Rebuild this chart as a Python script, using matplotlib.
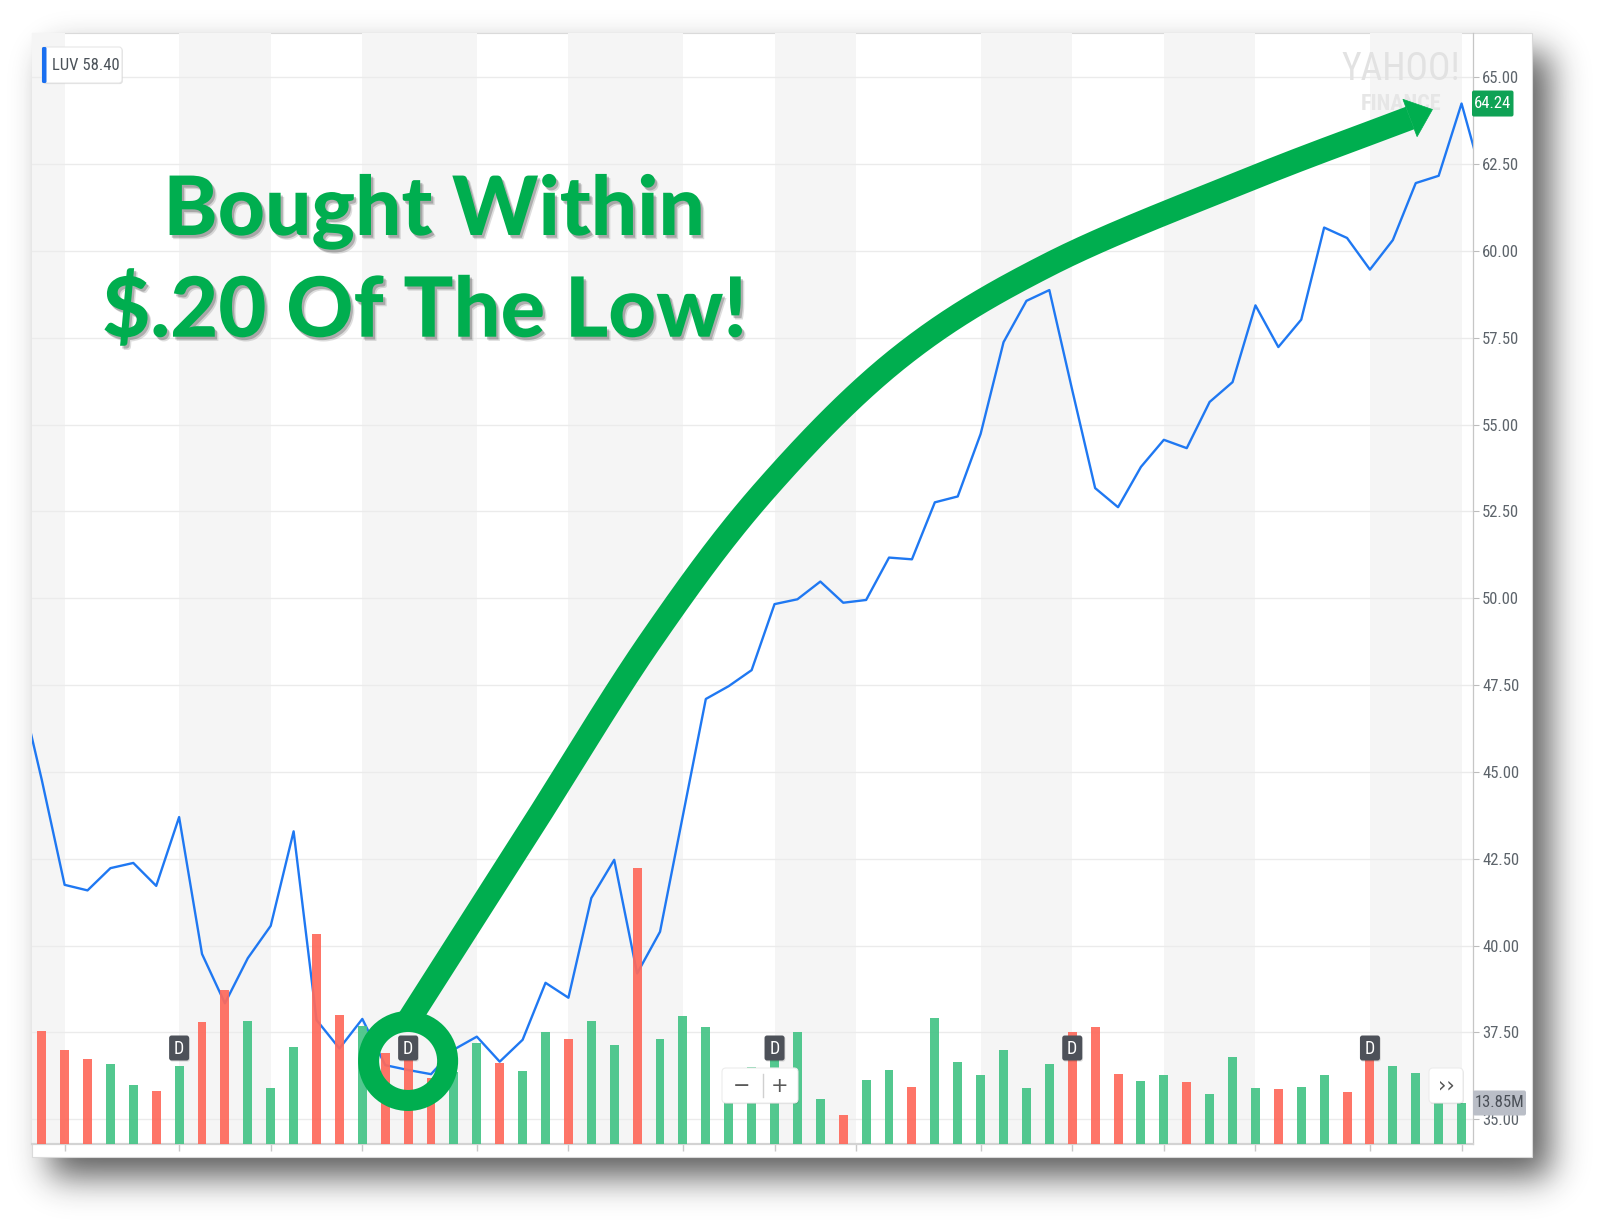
import math
import numpy as np
import matplotlib
matplotlib.use("Agg")
import matplotlib.pyplot as plt
import matplotlib.patheffects as pe
from matplotlib import font_manager as fm
from matplotlib.font_manager import FontProperties
from matplotlib.patches import Rectangle, FancyBboxPatch, Circle, Polygon
from matplotlib.lines import Line2D

# ---------------- data ----------------
ticker = "LUV"
hover_close = 58.40

# weekly closing prices; the first value belongs to the week before the visible window
week_of_first_close = -1
closes = [47.60, 44.78, 41.75, 41.59, 42.23, 42.38, 41.72, 43.70, 39.76, 38.34,
          39.64, 40.57, 43.29, 37.86, 37.04, 37.89, 36.56, 36.42, 36.30, 37.01,
          37.38, 36.66, 37.29, 38.93, 38.50, 41.37, 42.47, 39.20, 40.40, 43.75,
          47.10, 47.47, 47.93, 49.83, 49.97, 50.48, 49.87, 49.95, 51.17, 51.12,
          52.76, 52.93, 54.73, 57.37, 58.56, 58.87, 55.99, 53.17, 52.62, 53.78,
          54.56, 54.32, 55.65, 56.22, 58.43, 57.23, 58.02, 60.67, 60.37, 59.46,
          60.31, 61.95, 62.16, 64.24, 61.86]

# weekly volume, millions of shares (weeks 0..62)
volumes_m = [38.3, 31.8, 28.8, 26.9, 19.8, 17.9, 26.4, 41.1, 51.9, 41.5,
             18.9, 32.7, 70.9, 43.5, 39.8, 30.6, 31.0, 22.3, 24.3, 34.0,
             27.5, 24.6, 37.7, 35.4, 41.5, 33.4, 93.2, 35.4, 43.3, 39.6,
             19.9, 25.9, 29.1, 37.7, 15.1, 9.9, 21.7, 25.0, 19.4, 42.5,
             27.8, 23.2, 31.8, 18.9, 26.9, 37.7, 39.6, 23.6, 21.3, 23.2,
             20.8, 17.0, 29.3, 18.9, 18.5, 19.4, 23.2, 17.5, 30.1, 26.4,
             24.1, 14.9, 13.85]

month_starts = [1, 6, 10, 14, 19, 23, 28, 32, 35.55, 41, 45, 49, 53, 58, 62]
dividend_weeks = [6, 16, 32, 45, 58]
price_ticks = [35.0, 37.5, 40.0, 42.5, 45.0, 47.5, 50.0, 52.5, 55.0, 57.5, 60.0, 62.5, 65.0]
last_week = 62

buy_week = 16
ring_price = 36.68
headline = ["Bought Within", "$.20 Of The Low!"]

# ---------------- styling ----------------
GREEN = "#00ae4f"
LINE_BLUE = "#1f78f2"
UP = "#46c487"
DOWN = "#fe6a5c"
BAND = "#f5f5f5"

REGULAR = (400, "normal", "regular", "book")
BOLD = (600, 700, "bold", "semibold", "demibold")


def find_narrow_font(weights):
    for name in ("Liberation Sans Narrow", "Roboto Condensed", "Arial Narrow"):
        for f in fm.fontManager.ttflist:
            if f.name == name and f.style == "normal" and f.weight in weights:
                return f.fname
    for fam in ("Liberation Sans", "Noto Sans", "Roboto", "Open Sans", "DejaVu Sans"):
        for f in fm.fontManager.ttflist:
            if (f.name.startswith(fam) and "Mono" not in f.name and f.style == "normal"
                    and f.weight in weights
                    and f.stretch in ("condensed", "semi-condensed")):
                return f.fname
    return None


narrow_path = find_narrow_font(REGULAR)
narrow_bold_path = find_narrow_font(BOLD) or narrow_path
if narrow_path:
    UI_SIZE = 12.0

    def ui_font(size=UI_SIZE, bold=False):
        return FontProperties(fname=narrow_bold_path if bold else narrow_path, size=size)
else:
    UI_SIZE = 10.8

    def ui_font(size=UI_SIZE, bold=False):
        return FontProperties(family="Roboto", size=size, weight="bold" if bold else "normal")

W, H, DPI = 1597, 1222, 100
fig = plt.figure(figsize=(W / DPI, H / DPI), dpi=DPI)
fig.patch.set_facecolor("white")

CARD = (32, 33, 1532, 1157)   # left, top, right, bottom (pixels)
PLOT = (32, 33, 1473, 1144)


def frac_rect(l, t, r, b):
    return [l / W, 1 - b / H, (r - l) / W, (b - t) / H]


# ---- card with a soft drop shadow ----
bg = fig.add_axes([0, 0, 1, 1], zorder=0)
bg.set_axis_off()
erf = np.vectorize(math.erf)


def blurred_span(n, a, b, s):
    x = np.arange(n) + 0.5
    k = 1.0 / (s * math.sqrt(2))
    return 0.5 * (erf((x - a) * k) - erf((x - b) * k))


sh_x = blurred_span(W, CARD[0] + 18, CARD[2] + 18, 17)
sh_y = blurred_span(H, CARD[1] + 20, CARD[3] + 20, 17)
shadow = np.zeros((H, W, 4))
shadow[..., :3] = 0.12
shadow[..., 3] = 0.72 * np.outer(sh_y, sh_x)
bg.imshow(shadow, extent=(0, W, H, 0), aspect="auto", interpolation="nearest")
bg.set_xlim(0, W)
bg.set_ylim(H, 0)
bg.add_patch(Rectangle((CARD[0], CARD[1]), CARD[2] - CARD[0], CARD[3] - CARD[1],
                       fc="white", ec="#dadada", lw=0.8))

# ---- price panel ----
ax = fig.add_axes(frac_rect(*PLOT), zorder=1)
ax.set_facecolor("none")
x_lo, x_hi = -0.424, 62.5
ax.set_xlim(x_lo, x_hi)
ax.set_ylim(34.29, 66.27)

edges = [x_lo] + month_starts + [x_hi]
for k in range(0, len(edges) - 1, 2):
    ax.axvspan(edges[k], edges[k + 1], color=BAND, lw=0, zorder=0)
for p in price_ticks:
    ax.axhline(p, color="#ebebeb", lw=1.0, zorder=0.5)

weeks = np.arange(len(closes)) + week_of_first_close
ax.plot(weeks, closes, color=LINE_BLUE, lw=1.7, zorder=2, solid_joinstyle="round")

ax.yaxis.tick_right()
ax.set_yticks(price_ticks)
ax.set_yticklabels([f"{p:.2f}" for p in price_ticks])
ax.tick_params(axis="y", direction="out", length=4, width=0.8, color="#bdbdbd",
               pad=2.5, labelcolor="#5d646b")
for lab in ax.get_yticklabels():
    lab.set_fontproperties(ui_font())
ax.set_xticks(month_starts)
ax.set_xticklabels([])
ax.tick_params(axis="x", direction="out", length=5, width=1, color="#c9c9c9")
for s in ("left", "top"):
    ax.spines[s].set_visible(False)
ax.spines["right"].set_color("#c6c6c6")
ax.spines["right"].set_linewidth(0.9)
ax.spines["bottom"].set_color("#d3d3d3")
ax.spines["bottom"].set_linewidth(1.6)

# ---- volume bars ----
axv = fig.add_axes(frac_rect(*PLOT), sharex=ax, zorder=2)
axv.set_axis_off()
axv.set_ylim(0, 375.3)
vweeks = np.arange(len(volumes_m))
c = np.asarray(closes)
bar_colors = [UP if c[w + 1] >= c[w] else DOWN for w in vweeks]
axv.bar(vweeks, volumes_m, width=0.39, color=bar_colors, alpha=0.93, lw=0, zorder=3)
axv.set_xlim(x_lo, x_hi)

# ---- overlay in pixel units ----
top = fig.add_axes([0, 0, 1, 1], zorder=5)
top.set_axis_off()
top.set_xlim(0, W)
top.set_ylim(H, 0)


def to_px(axes, x, y):
    X, Y = axes.transData.transform((x, y))
    return X, H - Y


soft = [pe.SimplePatchShadow(offset=(0.6, -0.8), shadow_rgbFace="k", alpha=0.12), pe.Normal()]

# dividend markers
for w in dividend_weeks:
    cx, _ = to_px(ax, w, 50)
    top.add_patch(FancyBboxPatch((cx - 10, 1035.5), 20, 25,
                                 boxstyle="round,pad=0,rounding_size=2.5",
                                 fc="#4d5159", ec="none", path_effects=soft, zorder=2))
    top.text(cx, 1048.5, "D", color="white", ha="center", va="center",
             fontproperties=ui_font(UI_SIZE + 1), zorder=3)

# zoom control
top.add_patch(FancyBboxPatch((722, 1068), 76, 35, boxstyle="round,pad=0,rounding_size=4",
                             fc="white", ec="#ececec", lw=0.8, path_effects=soft, zorder=2))
top.text(742, 1085.5, "\u2212", ha="center", va="center", fontsize=15, color="#5a5a5a", zorder=3)
top.text(780, 1085.5, "+", ha="center", va="center", fontsize=15, color="#5a5a5a", zorder=3)
top.add_line(Line2D([762.5, 762.5], [1074, 1097], color="#d0d0d0", lw=1, zorder=3))

# scroll button
top.add_patch(FancyBboxPatch((1429, 1068), 34, 35, boxstyle="round,pad=0,rounding_size=4",
                             fc="white", ec="#ececec", lw=0.8, path_effects=soft, zorder=2))
top.text(1446, 1085, "\u203a\u203a", ha="center", va="center", fontsize=15,
         color="#555555", zorder=3)

# last-value tags on the right scale
last_close = closes[last_week - week_of_first_close]
_, py = to_px(ax, last_week, last_close)
top.add_patch(FancyBboxPatch((1472, py - 13), 41.5, 26, boxstyle="round,pad=0,rounding_size=2",
                             fc="#0fa255", ec="none", zorder=2))
top.text(1492.7, py, f"{last_close:.2f}", color="white",
         ha="center", va="center", fontproperties=ui_font(), zorder=3)

_, vy = to_px(axv, last_week, volumes_m[-1])
top.add_patch(FancyBboxPatch((1473, vy - 12.5), 53, 25, boxstyle="round,pad=0,rounding_size=2",
                             fc="#babec7", ec="none", zorder=2))
top.text(1499.5, vy, f"{volumes_m[-1]:.2f}M", color="#4a4f57",
         ha="center", va="center", fontproperties=ui_font(), zorder=3)

# hover legend
top.add_patch(FancyBboxPatch((42, 47), 80, 36, boxstyle="round,pad=0,rounding_size=3",
                             fc="white", ec="#e6e6e6", lw=0.8, path_effects=soft, zorder=2))
top.add_patch(FancyBboxPatch((42, 47), 4.5, 36, boxstyle="round,pad=0,rounding_size=1.5",
                             fc="#1a6ff0", ec="none", zorder=3))
top.text(52, 65.5, f"{ticker} {hover_close:.2f}", ha="left", va="center",
         fontproperties=ui_font(), color="#4b5259", zorder=3)

# watermark
top.text(1401, 70, "YAHOO!", ha="center", va="center", fontproperties=ui_font(27),
         color="#e2e2e2", zorder=1)
top.text(1401, 103.5, "FINANCE", ha="center", va="center", fontproperties=ui_font(16, bold=True),
         color="#e6e6e6", zorder=1)

# ---- headline, sized to its box ----
head_prop = FontProperties(family=["Lato", "DejaVu Sans"], weight="black")
text_fx = [pe.SimplePatchShadow(offset=(2.6, -3.0), shadow_rgbFace="#333333", alpha=0.16),
           pe.SimplePatchShadow(offset=(1.6, -2.0), shadow_rgbFace="#333333", alpha=0.28),
           pe.Normal()]
renderer = fig.canvas.get_renderer()
for s, (left, right, baseline) in zip(headline, [(163, 705, 235.0), (102, 747, 336.7)]):
    t = top.text((left + right) / 2, baseline, s, ha="center", va="baseline",
                 fontproperties=head_prop, fontsize=60, color=GREEN,
                 path_effects=text_fx, zorder=6)
    bb = t.get_window_extent(renderer)
    t.set_fontsize(60 * (right - left) / bb.width)

# ---- ring around the buy point and the arrow to the top ----
rcx, rcy = to_px(ax, buy_week, ring_price)
top.add_patch(Circle((rcx, rcy), 39.5, fill=False, ec=GREEN, lw=21 * 0.72, zorder=7))


def catmull_rom(pts, n=40):
    pts = np.asarray(pts, float)
    p = np.vstack([2 * pts[0] - pts[1], pts, 2 * pts[-1] - pts[-2]])
    out = []
    t = np.linspace(0, 1, n, endpoint=False)[:, None]
    for i in range(1, len(p) - 2):
        p0, p1, p2, p3 = p[i - 1], p[i], p[i + 1], p[i + 2]
        out.append(0.5 * ((2 * p1) + (-p0 + p2) * t + (2 * p0 - 5 * p1 + 4 * p2 - p3) * t ** 2
                          + (-p0 + 3 * p1 - 3 * p2 + p3) * t ** 3))
    out.append(pts[-1:])
    return np.vstack(out)


shaft_pts = [(rcx, rcy - 40), (530, 830), (651, 640), (765, 490), (900, 357),
             (1050, 264), (1250, 179), (1410, 118)]
curve = catmull_rom(shaft_pts)
top.add_line(Line2D(curve[:, 0], curve[:, 1], color=GREEN, lw=24 * 0.72,
                    solid_capstyle="butt", zorder=7))
end = curve[-1]
d = curve[-1] - curve[-4]
d = d / np.hypot(*d)
nrm = np.array([-d[1], d[0]])
tip = end + 24 * d
top.add_patch(Polygon([end + 20 * nrm, tip, end - 20 * nrm], closed=True,
                      fc=GREEN, ec=GREEN, lw=0.5, zorder=7))

fig.savefig("out.png", dpi=DPI)
